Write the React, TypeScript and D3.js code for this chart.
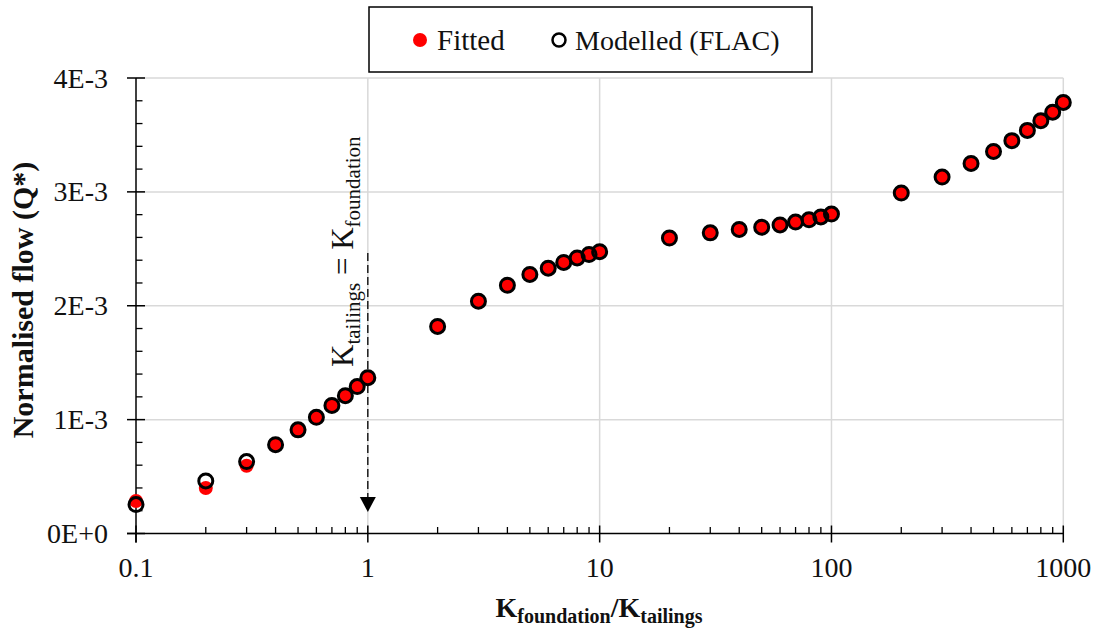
import React from "react";
import * as d3 from "d3";

// ---- Data ----
const ratios = [0.1, 0.2, 0.3, 0.4, 0.5, 0.6, 0.7, 0.8, 0.9, 1, 2, 3, 4, 5, 6, 7, 8, 9, 10, 20, 30, 40, 50, 60, 70, 80, 90, 100, 200, 300, 400, 500, 600, 700, 800, 900, 1000];
const fitted = [0.285, 0.40, 0.595, 0.78, 0.91, 1.02, 1.125, 1.21, 1.29, 1.368, 1.818, 2.04, 2.18, 2.275, 2.33, 2.38, 2.42, 2.45, 2.475, 2.595, 2.64, 2.67, 2.69, 2.71, 2.735, 2.755, 2.78, 2.805, 2.99, 3.13, 3.25, 3.355, 3.45, 3.54, 3.625, 3.70, 3.785].map(v => v * 1e-3);
const modelled = [0.254, 0.462, 0.632, 0.78, 0.91, 1.02, 1.125, 1.21, 1.29, 1.368, 1.818, 2.04, 2.18, 2.275, 2.33, 2.38, 2.42, 2.45, 2.475, 2.595, 2.64, 2.67, 2.69, 2.71, 2.735, 2.755, 2.78, 2.805, 2.99, 3.13, 3.25, 3.355, 3.45, 3.54, 3.625, 3.70, 3.785].map(v => v * 1e-3);
const xTicks = [0.1, 1, 10, 100, 1000];
const xTickLabels = ["0.1", "1", "10", "100", "1000"];
const yTicks = [0, 1e-3, 2e-3, 3e-3, 4e-3];
const yTickLabels = ["0E+0", "1E-3", "2E-3", "3E-3", "4E-3"];
const legendLabels = ["Fitted", "Modelled (FLAC)"];

const W = 1099, H = 631;
const FONT = "'Liberation Serif', 'Times New Roman', serif";

export default function App() {
  const x = d3.scaleLog().domain([0.1, 1000]).range([136, 1063.3]);
  const y = d3.scaleLinear().domain([0, 4e-3]).range([533.5, 78]);

  const xMinor: number[] = [];
  for (let e = -1; e < 3; e++) {
    for (let m = 2; m <= 9; m++) xMinor.push(m * Math.pow(10, e));
  }
  const yMinor: number[] = d3.range(0, 4.0001e-3, 0.2e-3).filter((v, i) => i % 5 !== 0);

  const x0 = x(0.1), y0 = y(0);
  const xa = x(1);
  const arrowTop = 253, arrowTip = 512;

  return (
    <svg width={W} height={H} style={{ position: "absolute", left: 0, top: 0, background: "#fff" }} fontFamily={FONT}>
      {/* gridlines */}
      {xTicks.slice(1).map((t, i) => (
        <line key={"gx" + i} x1={x(t)} x2={x(t)} y1={y(4e-3)} y2={y0} stroke="#d9d9d9" strokeWidth={1.5} />
      ))}
      {yTicks.slice(1).map((t, i) => (
        <line key={"gy" + i} x1={x0} x2={x(1000)} y1={y(t)} y2={y(t)} stroke="#d9d9d9" strokeWidth={1.5} />
      ))}

      {/* axes */}
      <line x1={x0} x2={x0} y1={y(4e-3)} y2={y0 + 9} stroke="#000" strokeWidth={1.5} />
      <line x1={x0 - 9} x2={x(1000)} y1={y0} y2={y0} stroke="#000" strokeWidth={1.5} />
      {yTicks.map((t, i) => (
        <line key={"yt" + i} x1={x0 - 9} x2={x0 + 9} y1={y(t)} y2={y(t)} stroke="#000" strokeWidth={1.5} />
      ))}
      {yMinor.map((t, i) => (
        <line key={"ym" + i} x1={x0} x2={x0 + 6.5} y1={y(t)} y2={y(t)} stroke="#000" strokeWidth={1.3} />
      ))}
      {xTicks.map((t, i) => (
        <line key={"xt" + i} x1={x(t)} x2={x(t)} y1={y0 - 8} y2={y0 + 9} stroke="#000" strokeWidth={1.5} />
      ))}
      {xMinor.map((t, i) => (
        <line key={"xm" + i} x1={x(t)} x2={x(t)} y1={y0 - 6.5} y2={y0} stroke="#000" strokeWidth={1.3} />
      ))}

      {/* tick labels */}
      {yTicks.map((t, i) => (
        <text key={"yl" + i} x={108} y={y(t) + 9.5} textAnchor="end" fontSize={28} fill="#111">{yTickLabels[i]}</text>
      ))}
      {xTicks.map((t, i) => (
        <text key={"xl" + i} x={x(t)} y={577} textAnchor="middle" fontSize={28} fill="#111">{xTickLabels[i]}</text>
      ))}

      {/* axis titles */}
      <text transform="translate(33,300) rotate(-90)" textAnchor="middle" fontSize={30} fontWeight="bold" fill="#111">Normalised flow (Q*)</text>
      <text x={599} y={617} textAnchor="middle" fontWeight="bold" fill="#111" fontSize={28}>
        K<tspan fontSize={20} dy={6}>foundation</tspan><tspan fontSize={28} dy={-6}>/K</tspan><tspan fontSize={20} dy={6}>tailings</tspan>
      </text>

      {/* annotation */}
      <line x1={xa} x2={xa} y1={arrowTop} y2={498} stroke="#000" strokeWidth={1.3} strokeDasharray="8,4" />
      <path d={`M${xa - 8},${497} L${xa + 8},${497} L${xa},${arrowTip} Z`} fill="#000" />
      <text transform="translate(353,367) rotate(-90)" textAnchor="start" fontSize={31} fill="#111">
        K<tspan fontSize={21} dy={7}>tailings</tspan><tspan fontSize={31} dy={-7}> = K</tspan><tspan fontSize={21} dy={7}>foundation</tspan>
      </text>

      {/* data */}
      {ratios.map((r, i) => (
        <circle key={"f" + i} cx={x(r)} cy={y(fitted[i])} r={7} fill="#ff0000" />
      ))}
      {ratios.map((r, i) => (
        <circle key={"m" + i} cx={x(r)} cy={y(modelled[i])} r={7} fill="none" stroke="#000" strokeWidth={3} />
      ))}

      {/* legend */}
      <rect x={369} y={7} width={443} height={65} fill="#fff" stroke="#000" strokeWidth={1.5} />
      <circle cx={420} cy={40} r={7} fill="#ff0000" />
      <text x={437} y={50} fontSize={29} fill="#111">{legendLabels[0]}</text>
      <circle cx={559} cy={40} r={6.5} fill="none" stroke="#000" strokeWidth={2.5} />
      <text x={575} y={50} fontSize={28} fill="#111">{legendLabels[1]}</text>
    </svg>
  );
}
